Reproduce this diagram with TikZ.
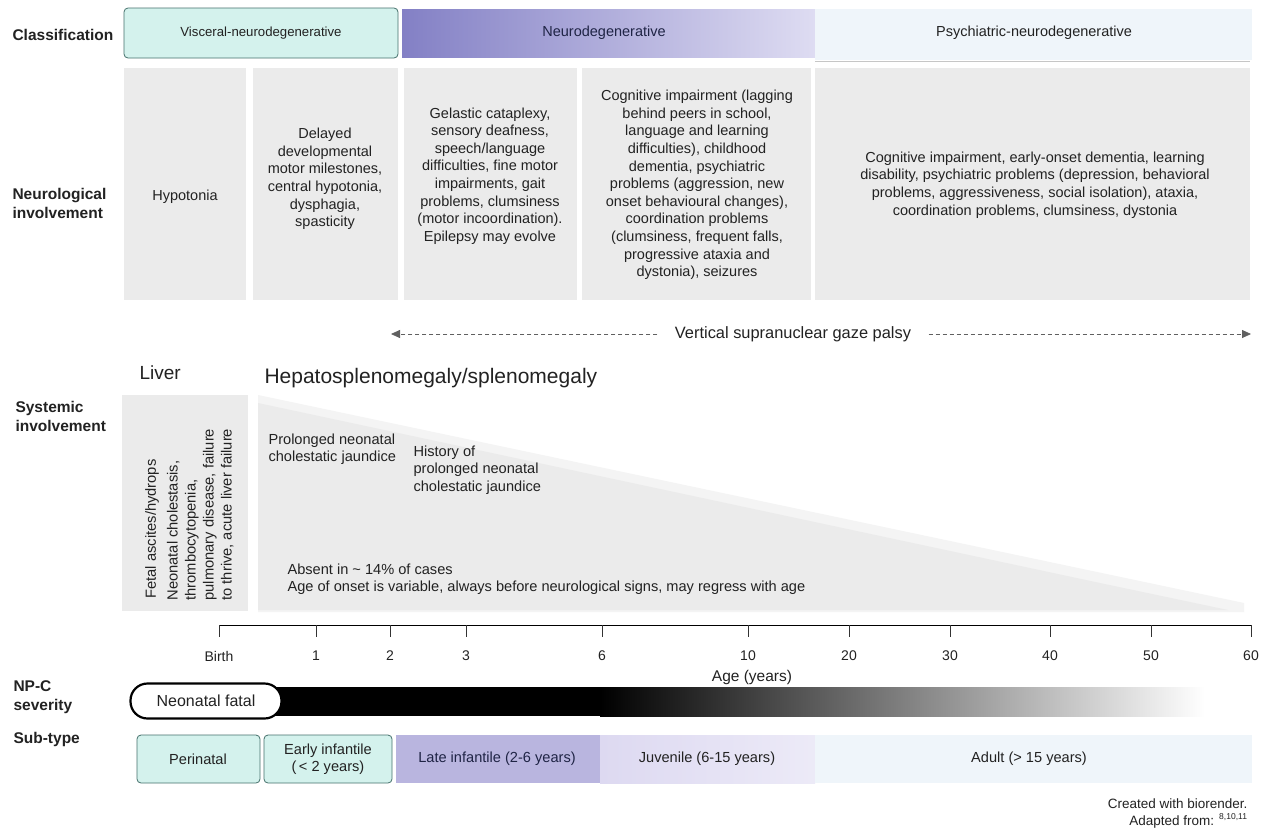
\documentclass[tikz,border=0pt]{standalone}
\usepackage{fontspec}
\setmainfont{Liberation Sans}
\usetikzlibrary{arrows.meta}
\definecolor{tealf}{HTML}{D4F2ED}
\definecolor{tealb}{HTML}{46716C}
\definecolor{purpA}{HTML}{8380C5}
\definecolor{purpB}{HTML}{DEDCF2}
\definecolor{lateinf}{HTML}{B9B5DF}
\definecolor{juvf}{HTML}{DDD9F1}
\definecolor{palef}{HTML}{EFF5FA}
\definecolor{neurogray}{HTML}{EBEBEB}
\definecolor{txt}{HTML}{222222}
\definecolor{navy}{HTML}{1F2445}
\begin{document}
\begin{tikzpicture}[x=1pt,y=-1pt,
  every node/.style={text=txt},
  rowlabel/.style={anchor=west,align=left,font=\bfseries\fontsize{15.5}{19}\selectfont},
  neurobox/.style={fill=neurogray,draw=none},
  neurotext/.style={align=center,font=\fontsize{14.5}{17.6}\selectfont},
  systext/.style={anchor=north west,align=left,font=\fontsize{14.6}{17.8}\selectfont},
  tealbox/.style={fill=tealf,draw=tealb,line width=0.8pt,rounded corners=4pt},
  ticklabel/.style={font=\fontsize{14}{16}\selectfont},
  subtext/.style={align=center,font=\fontsize{14.6}{17}\selectfont}]
\useasboundingbox (0,0) rectangle (1264,833);
\fill[white] (0,0) rectangle (1264,833);

% ---------- row labels
\node[rowlabel] (lclass) at (9,35) {Classification};
\node[rowlabel] (lneuro) at (9,203) {Neurological\\involvement};
\node[rowlabel] (lsys) at (12,416) {Systemic\\involvement};
\node[rowlabel] (lsev) at (10,697) {NP-C\\severity};
\node[rowlabel] (lsub) at (10,739) {Sub-type};

% ---------- classification
\draw[tealbox] (124,8) rectangle (398,58);
\node[font=\fontsize{13.2}{15}\selectfont] (cvisc) at (261,33) {Visceral-neurodegenerative};
\shade[left color=purpA,right color=purpB] (402,9) rectangle (815,57);
\node[font=\fontsize{14.5}{16}\selectfont,text=navy] (cneuro) at (604,33) {Neurodegenerative};
\fill[palef] (815,9) rectangle (1252,60);
\draw[gray!45,line width=0.5pt] (815,61) -- (1250,61);
\node[font=\fontsize{14.5}{16}\selectfont] (cpsy) at (1034,33) {Psychiatric-neurodegenerative};

% ---------- neurological boxes
\fill[neurobox] (124,68) rectangle (246,300);
\fill[neurobox] (253,68) rectangle (398,300);
\fill[neurobox] (404,68) rectangle (577,300);
\fill[neurobox] (582,68) rectangle (811,300);
\fill[neurobox] (815,68) rectangle (1250,300);
\node[neurotext] (n1) at (185,197) {Hypotonia};
\node[neurotext] (n2) at (325,179) {Delayed\\developmental\\motor milestones,\\central hypotonia,\\dysphagia,\\spasticity};
\node[neurotext] (n3) at (490,176) {Gelastic cataplexy,\\sensory deafness,\\speech/language\\difficulties, fine motor\\impairments, gait\\problems, clumsiness\\(motor incoordination).\\Epilepsy may evolve};
\node[neurotext] (n4) at (697,185) {Cognitive impairment (lagging\\behind peers in school,\\language and learning\\difficulties), childhood\\dementia, psychiatric\\problems (aggression, new\\onset behavioural changes),\\coordination problems\\(clumsiness, frequent falls,\\progressive ataxia and\\dystonia), seizures};
\node[neurotext] (n5) at (1035,185) {Cognitive impairment, early-onset dementia, learning\\disability, psychiatric problems (depression, behavioral\\problems, aggressiveness, social isolation), ataxia,\\coordination problems, clumsiness, dystonia};

% ---------- gaze palsy
\node[font=\fontsize{16.4}{18}\selectfont] (gaze) at (793,334) {Vertical supranuclear gaze palsy};
\coordinate (gl) at (391,334);
\coordinate (gr) at (1251,334);
\draw[gray!75!black,line width=0.8pt,dash pattern=on 4pt off 3pt,-{Triangle[length=9pt,width=8pt]}] (gaze.west) ++(-14,0) -- (gl);
\draw[gray!75!black,line width=0.8pt,dash pattern=on 4pt off 3pt,-{Triangle[length=9pt,width=8pt]}] (gaze.east) ++(14,0) -- (gr);

% ---------- systemic
\node[anchor=west,font=\fontsize{19}{22}\selectfont] (liver) at (136,373) {Liver};
\node[anchor=west,font=\fontsize{21}{24}\selectfont] (hepato) at (261,378) {Hepatosplenomegaly/splenomegaly};
\fill[neurogray] (122,395) rectangle (248,611);
\fill[neurogray!55] (258,395) -- (1244,603) -- (1244,612) -- (258,612) -- cycle;
\fill[neurogray] (258,403) -- (1100,583) -- (1228,610) -- (258,610) -- cycle;
\node[rotate=90,anchor=west,font=\fontsize{14.7}{18}\selectfont] (fetal) at (152,602) {Fetal ascites/hydrops};
\node[rotate=90,anchor=south west,align=left,font=\fontsize{14.7}{18}\selectfont] (neonat) at (237,604) {Neonatal cholestasis,\\thrombocytopenia,\\pulmonary disease, failure\\to thrive, acute liver failure};
\node[systext] (prol) at (265,430) {Prolonged neonatal\\cholestatic jaundice};
\node[systext] (hist) at (410,442) {History of\\prolonged neonatal\\cholestatic jaundice};
\node[systext] (absent) at (284,560) {Absent in \textasciitilde{} 14\% of cases\\Age of onset is variable, always before neurological signs, may regress with age};

% ---------- axis
\coordinate (ax0) at (219,625);
\coordinate (ax1) at (1251,625);
\draw[black,line width=1pt] (ax0) -- (ax1);
\foreach \x/\l/\n in {219/Birth/t0,316/1/t1,390/2/t2,466/3/t3,602/6/t4,748/10/t5,849/20/t6,950/30/t7,1050/40/t8,1151/50/t9,1251/60/t10}{
  \draw[black!80,line width=0.8pt] (\x,625) -- (\x,637);
  \node[ticklabel] (\n) at (\x,656) {\l};
}
\node[font=\fontsize{15.5}{17}\selectfont] (agey) at (752,677) {Age (years)};

% ---------- severity
\fill[black] (270,687) rectangle (601,716);
\shade[left color=black,right color=white] (600,687) rectangle (1205,716);
\node[draw=black,line width=2.2pt,fill=white,rounded corners=17pt,minimum width=151pt,minimum height=35pt,font=\fontsize{16}{18}\selectfont] (fatal) at (206,701) {Neonatal fatal};

% ---------- sub-type
\draw[tealbox] (137,735) rectangle (260,783);
\draw[tealbox] (264,735) rectangle (392,783);
\fill[lateinf] (396,735) rectangle (600,783);
\shade[left color=juvf,right color=juvf!55!white] (600,735) rectangle (815,783);
\fill[palef] (815,735) rectangle (1252,783);
\node[subtext] (sper) at (198,759) {Perinatal};
\node[subtext] (searly) at (328,759) {Early infantile\\(\,< 2 years)};
\node[subtext,text=navy] (slate) at (497,759) {Late infantile (2-6 years)};
\node[subtext] (sjuv) at (707,759) {Juvenile (6-15 years)};
\node[subtext] (sadult) at (1029,759) {Adult (> 15 years)};

% ---------- credits
\node[anchor=east,font=\fontsize{13.5}{15}\selectfont] (cred) at (1251,804) {Created with biorender.};
\node[anchor=east,font=\fontsize{13.5}{15}\selectfont] (adapt) at (1251,821) {Adapted from: \textsuperscript{\fontsize{8.5}{9}\selectfont 8,10,11}};
\end{tikzpicture}
\end{document}
